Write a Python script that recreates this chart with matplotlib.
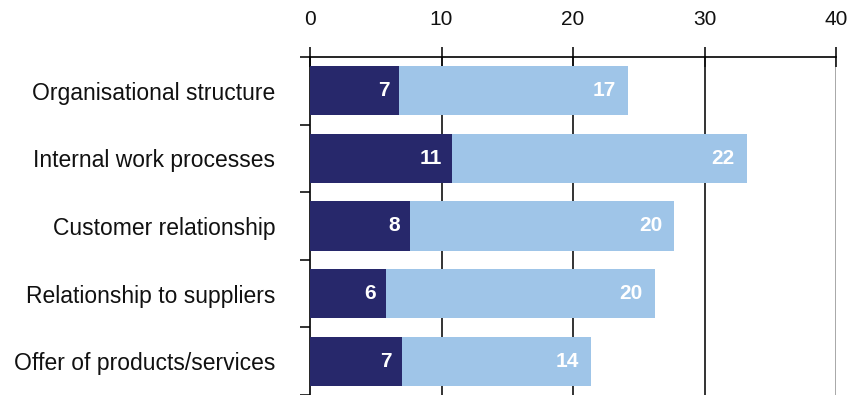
import matplotlib.pyplot as plt
import numpy as np

# data
categories = ['Organisational structure', 'Internal work processes', 'Customer relationship',
              'Relationship to suppliers', 'Offer of products/services']
first_part = [6.8, 10.8, 7.6, 5.8, 7.0]
second_part = [17.4, 22.4, 20.1, 20.4, 14.4]
x_ticks = [0, 10, 20, 30, 40]

plt.rcParams['font.family'] = ['Liberation Sans', 'DejaVu Sans']

fig = plt.figure(figsize=(8.54, 3.95), dpi=100)
ax = fig.add_axes([0.363, 0.0, 0.616, 0.856])

y = np.arange(len(categories))
dark = '#27286b'
light = '#9fc5e8'

ax.barh(y, first_part, height=0.73, color=dark, zorder=3)
ax.barh(y, second_part, left=first_part, height=0.73, color=light, zorder=3)

# labels inside segments
for i in range(len(categories)):
    ax.annotate(f'{round(first_part[i])}', (first_part[i], y[i]), xytext=(-10, 0),
                textcoords='offset pixels', ha='right', va='center',
                color='white', fontweight='bold', fontsize=15, zorder=4)
    end = first_part[i] + second_part[i]
    ax.annotate(f'{round(second_part[i])}', (end, y[i]), xytext=(-12, 0),
                textcoords='offset pixels', ha='right', va='center',
                color='white', fontweight='bold', fontsize=15, zorder=4)

ax.set_xlim(0, 40)
ax.set_ylim(len(categories) - 0.5, -0.5)

# x axis on top
ax.xaxis.tick_top()
ax.set_xticks(x_ticks)
ax.tick_params(axis='x', which='major', direction='inout', length=14, width=1.2,
               labelsize=15, pad=13, colors='#111111')
for xt in x_ticks[1:-1]:
    ax.axvline(xt, color='#111111', lw=1.2, zorder=1)
ax.axvline(40, color='#999999', lw=1.2, zorder=1)

# y axis: labels at bar centres, ticks between categories
ax.set_yticks(y)
ax.set_yticklabels(categories)
ax.tick_params(axis='y', which='major', length=0, labelsize=16.5, pad=25, colors='#111111')
ax.set_yticks(np.arange(len(categories) + 1) - 0.5, minor=True)
ax.tick_params(axis='y', which='minor', length=7, width=1.2, direction='out', color='#111111')

for s in ['right', 'bottom']:
    ax.spines[s].set_visible(False)
ax.spines['top'].set_linewidth(1.2)
ax.spines['left'].set_linewidth(1.2)

plt.savefig('out.png', dpi=100)
